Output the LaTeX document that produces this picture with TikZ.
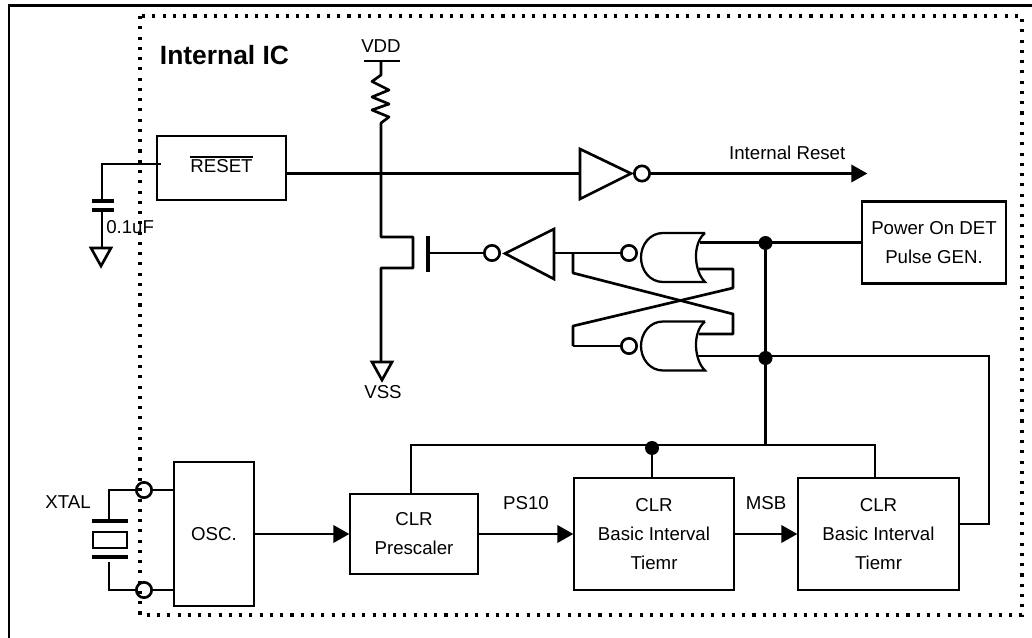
\documentclass[tikz,border=0pt]{standalone}
\usepackage{fontspec}
\setmainfont{Liberation Sans}
\usetikzlibrary{positioning,arrows.meta}
\tikzset{
  blk/.style   ={rectangle, draw=black, line width=2pt, fill=white, align=center,
                 font=\fontsize{14}{21.75}\selectfont, inner sep=0pt, outer sep=0pt},
  lbl/.style   ={font=\fontsize{14}{16}\selectfont, text=black, inner sep=0pt},
  wire/.style  ={draw=black, line width=2pt, line join=miter},
  fl/.style    ={wire, -{Triangle[length=12pt,width=13pt]}, shorten >=0.5pt},
  plate/.style ={draw=black, line width=3.5pt},
  bub/.style   ={circle, draw=black, line width=2pt, minimum size=11.5pt, inner sep=0pt, outer sep=0pt},
  jdot/.style  ={circle, fill=black, minimum size=10.5pt, inner sep=0pt, outer sep=0pt},
  dotbox/.style={draw=black, line width=2.3pt, dash pattern=on 2.3pt off 5.4pt}
}
\begin{document}
\begin{tikzpicture}[x=0.75pt, y=-0.75pt]
  \useasboundingbox (0,0) rectangle (1032,638);
  % frame and chip outline
  \draw[line width=2.2pt] (9,638) -- (9,5.5) -- (1032,5.5);
  \draw[dotbox] (140,16) rectangle (1022,615);
  \node[font=\bfseries\fontsize{19.8}{22}\selectfont, inner sep=0pt] (ttl) at (224.5,55) {Internal IC};

  % blocks
  \node[blk,minimum width=96.75pt,minimum height=48pt] (rst) at (221.5,168)
    {\raisebox{6pt}{\vbox{\hrule height 1.4pt\kern 1.3pt\hbox{RESET}}}};
  \node[blk,minimum width=108pt,minimum height=61pt] (pod) at (934,242.5) {Power On DET\\Pulse GEN.};
  \node[blk,minimum width=60pt,minimum height=108pt] (osc) at (214,534) {OSC.};
  \node[blk,right=72pt of osc,minimum width=96pt,minimum height=60pt] (pre) {CLR\\Prescaler};
  \node[blk,right=72pt of pre,minimum width=120pt,minimum height=84pt] (bita) {CLR\\Basic Interval\\Tiemr};
  \node[blk,right=48pt of bita,minimum width=120.75pt,minimum height=84pt] (bitb) {CLR\\Basic Interval\\Tiemr};

  % reset pin and capacitor
  \coordinate (capt) at (102,201);
  \coordinate (capb) at (102,210);
  \draw[wire] ([xshift=3pt]rst.west |- 0,164) -- (102,164) -- (capt);
  \draw[plate] (92,201) -- (114,201);
  \draw[plate] (92,210) -- (114,210);
  \coordinate (gnda) at (102,248);
  \draw[wire] (capb) -- (gnda);
  \draw[wire] (91,248) -- (111,248) -- (101,266) -- cycle;
  \node[lbl,right=3pt of capb,yshift=-12.5pt] (capl) {0.1uF};

  % pull-up and transistor
  \node[lbl] (vdd) at (381,46) {VDD};
  \coordinate (vddb) at (381,61);
  \draw[wire] (364,61) -- (400,61);
  \draw[wire,line join=round] (vddb) -- (381,75) -- (372,81.5) -- (389,90) -- (372,97) -- (389,104) -- (372,110) -- (389,117) -- (381,123) -- (381,237)
    -- (413,237) -- (413,268) -- (381,268) -- (381,362);
  \draw[wire] (372,362) -- (392,362) -- (382,380) -- cycle;
  \node[lbl] (vss) at (383,392) {VSS};
  \coordinate (gate) at (428,253);
  \draw[draw=black,line width=3.7pt] (428,236) -- (428,272);

  % inverters
  \node[bub] (bubr) at (642,173.5) {};
  \coordinate (invr) at (580,173.5);
  \draw[wire] (rst.east |- invr) -- (invr);
  \draw[wire] (580,149) -- (631,173.5) -- (580,199) -- cycle;
  \coordinate (rout) at (868,173.5);
  \draw[fl] (bubr) -- (rout) node[lbl,pos=0.63,above=9.5pt] {Internal Reset};

  \node[bub] (bubg) at (492,253) {};
  \draw[wire] (gate) -- (bubg);
  \draw[wire] (554,229) -- (505,253.5) -- (554,279) -- cycle;
  \coordinate (invg) at (554,253);

  % latch
  \foreach \gy in {257.5,346}{
    \draw[wire,line width=1.7pt] (705,\gy-24.5) -- (663,\gy-24.5) .. controls (650,\gy-24.5) and (641,\gy-13) .. (641,\gy)
      .. controls (641,\gy+13) and (650,\gy+24.5) .. (663,\gy+24.5) -- (705,\gy+24.5)
      .. controls (694,\gy+14) and (692,\gy-14) .. (705,\gy-24.5);
  }
  \node[bub] (bubu) at (629,253) {};
  \node[bub] (bubd) at (629,346) {};
  \coordinate (xl) at (573,253);
  \coordinate (yl) at (573,346);
  \draw[wire] (invg) -- (bubu);
  \draw[wire] (yl) -- (bubd);
  \draw[wire,line join=round] (xl) -- (573,273) -- (733,314) -- (733,334) -- (699,334);
  \draw[wire,line join=round] (yl) -- (573,326) -- (733,288) -- (733,269) -- (699,269);

  % clear lines
  \node[jdot] (ja) at (765.5,243) {};
  \node[jdot] (jb) at (765.5,358) {};
  \node[jdot] (jc) at (652,448) {};
  \coordinate (outa) at (700,242.5);
  \coordinate (outb) at (698,356);
  \coordinate (clrl) at (411,445);
  \coordinate (clrr) at (875,445);
  \draw[wire] (outa) -- (pod.west |- outa);
  \draw[wire] (outb) -- (989,356) -- (989,524) -- (bitb.east |- 0,524);
  \draw[wire] (ja) -- (765.5,446);
  \draw[wire] (pre.north -| clrl) -- (clrl) -- (clrr) -- (bitb.north -| clrr);
  \draw[wire] (jc) -- (bita.north -| jc);

  % crystal
  \node[bub] (pina) at (144,490) {};
  \node[bub] (pinb) at (144,590) {};
  \draw[wire] (pina) -- (osc.west |- pina);
  \draw[wire] (pinb) -- (osc.west |- pinb);
  \draw[wire] (pina) -- (109,490) -- (109,521);
  \draw[wire] (pinb) -- (109,590) -- (109,562);
  \draw[plate] (92,521) -- (128,521);
  \draw[plate] (92,557) -- (128,557);
  \draw[wire] (93,532) rectangle (127,548);
  \node[lbl] (xtal) at (68,502) {XTAL};

  % clock path
  \draw[fl] (osc) -- (pre);
  \draw[fl] (pre) -- (bita) node[lbl,midway,above=17pt] {PS10};
  \draw[fl] (bita) -- (bitb) node[lbl,midway,above=17pt] {MSB};
\end{tikzpicture}
\end{document}
